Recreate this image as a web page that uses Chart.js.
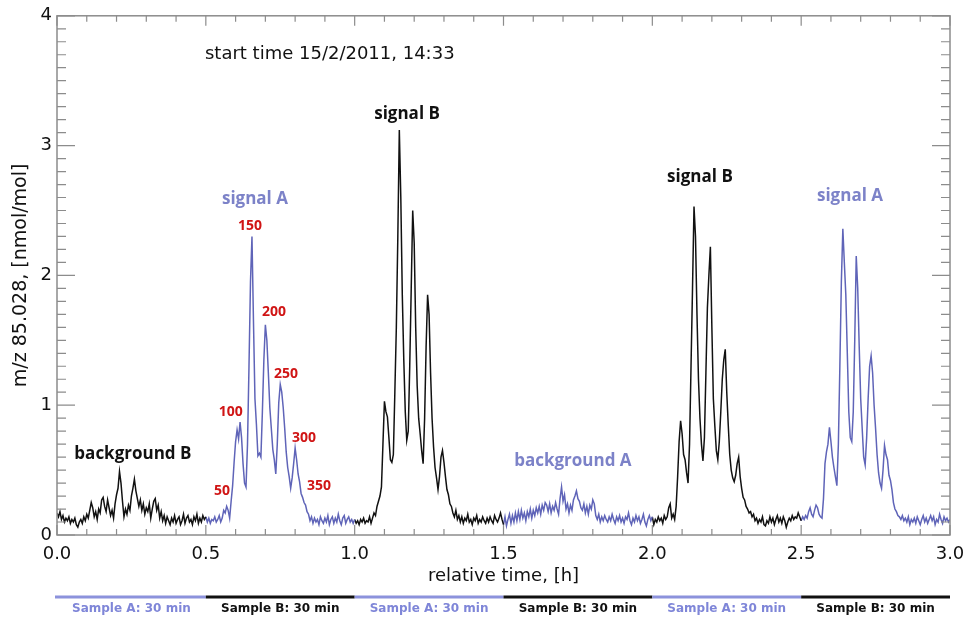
<!DOCTYPE html>
<html>
<head>
<meta charset="utf-8">
<script src="https://cdn.jsdelivr.net/npm/chart.js@4"></script>
<style>
  html, body { margin: 0; padding: 0; background: #fff; }
  #wrap { width: 965px; height: 617px; }
</style>
</head>
<body>
<div id="wrap"><canvas id="myChart" width="965" height="617"></canvas></div>
<script>
// sampling step of the trace, hours
var STEP = 0.005;

// sample B, 0.0 - 0.5 h (background B)
var trace_b1 = [
  0.17,0.14,0.18,0.12,0.15,0.10,0.13,0.11,0.14,0.09,
  0.12,0.10,0.13,0.08,0.06,0.10,0.12,0.09,0.14,0.11,
  0.16,0.13,0.19,0.25,0.21,0.14,0.18,0.12,0.20,0.17,
  0.27,0.29,0.22,0.18,0.27,0.21,0.15,0.19,0.13,0.24,
  0.31,0.36,0.49,0.40,0.26,0.14,0.20,0.16,0.23,0.19,
  0.30,0.36,0.43,0.34,0.28,0.22,0.27,0.19,0.24,0.16,
  0.21,0.18,0.24,0.13,0.20,0.26,0.28,0.19,0.23,0.13,
  0.18,0.11,0.15,0.09,0.14,0.11,0.08,0.13,0.10,0.15,
  0.09,0.12,0.14,0.08,0.11,0.16,0.09,0.13,0.15,0.10,
  0.12,0.08,0.14,0.11,0.16,0.09,0.13,0.10,0.15,0.12,
  0.14
];
// sample A, 0.5 - 1.0 h (signal A)
var trace_a1 = [
  0.14,0.10,0.13,0.09,0.12,0.11,0.14,0.10,0.12,0.15,
  0.10,0.13,0.19,0.17,0.22,0.19,0.13,0.26,0.38,0.56,
  0.72,0.81,0.74,0.87,0.75,0.55,0.40,0.37,0.70,1.30,
  1.95,2.30,1.65,1.05,0.85,0.61,0.63,0.60,0.95,1.35,
  1.62,1.50,1.25,0.98,0.82,0.66,0.58,0.47,0.70,1.02,
  1.16,1.10,0.98,0.82,0.64,0.52,0.45,0.36,0.44,0.55,
  0.67,0.58,0.47,0.41,0.32,0.29,0.25,0.23,0.18,0.16,
  0.11,0.14,0.09,0.13,0.10,0.12,0.08,0.14,0.11,0.09,
  0.13,0.10,0.15,0.08,0.12,0.14,0.09,0.13,0.10,0.16,
  0.11,0.08,0.13,0.15,0.09,0.12,0.14,0.10,0.12,0.09,
  0.12
];
// sample B, 1.0 - 1.5 h (signal B)
var trace_b2 = [
  0.12,0.09,0.11,0.08,0.12,0.10,0.13,0.09,0.11,0.10,
  0.14,0.09,0.13,0.17,0.15,0.22,0.26,0.30,0.37,0.70,
  1.03,0.95,0.91,0.75,0.58,0.56,0.62,1.10,1.60,2.30,
  3.12,2.60,1.85,1.35,0.95,0.73,0.80,1.30,1.90,2.50,
  2.25,1.60,1.15,0.90,0.78,0.65,0.55,0.90,1.45,1.85,
  1.70,1.25,0.90,0.68,0.52,0.44,0.35,0.45,0.60,0.65,
  0.56,0.45,0.35,0.31,0.24,0.22,0.17,0.14,0.19,0.12,
  0.15,0.10,0.14,0.09,0.13,0.11,0.16,0.10,0.12,0.08,
  0.13,0.11,0.15,0.09,0.12,0.10,0.14,0.11,0.09,0.13,
  0.10,0.14,0.11,0.09,0.15,0.12,0.10,0.13,0.17,0.12,
  0.08
];
// sample A, 1.5 - 2.0 h (background A)
var trace_a2 = [
  0.08,0.14,0.07,0.12,0.16,0.09,0.15,0.10,0.17,0.11,
  0.18,0.12,0.19,0.13,0.17,0.11,0.18,0.14,0.20,0.13,
  0.19,0.15,0.21,0.17,0.22,0.16,0.23,0.19,0.25,0.23,
  0.18,0.24,0.17,0.22,0.19,0.25,0.20,0.16,0.28,0.37,
  0.26,0.31,0.20,0.24,0.17,0.23,0.19,0.27,0.30,0.34,
  0.28,0.26,0.21,0.19,0.24,0.17,0.22,0.16,0.23,0.20,
  0.27,0.24,0.15,0.12,0.16,0.10,0.14,0.11,0.15,0.12,
  0.10,0.14,0.11,0.16,0.12,0.09,0.14,0.11,0.15,0.10,
  0.13,0.09,0.14,0.12,0.17,0.11,0.08,0.13,0.10,0.15,
  0.11,0.14,0.09,0.12,0.16,0.10,0.07,0.12,0.15,0.11,
  0.14
];
// sample B, 2.0 - 2.5 h (signal B)
var trace_b3 = [
  0.14,0.08,0.12,0.10,0.14,0.11,0.13,0.09,0.15,0.12,
  0.14,0.21,0.24,0.13,0.16,0.12,0.22,0.45,0.72,0.88,
  0.78,0.62,0.58,0.48,0.40,0.70,1.30,1.90,2.53,2.30,
  1.70,1.20,0.90,0.70,0.57,0.75,1.25,1.75,2.00,2.22,
  1.60,1.05,0.84,0.65,0.58,0.72,0.95,1.20,1.35,1.43,
  1.10,0.85,0.62,0.50,0.44,0.41,0.46,0.55,0.60,0.45,
  0.36,0.29,0.27,0.22,0.20,0.17,0.18,0.14,0.16,0.11,
  0.13,0.09,0.12,0.10,0.14,0.08,0.07,0.11,0.09,0.14,
  0.10,0.13,0.08,0.12,0.15,0.10,0.13,0.09,0.14,0.11,
  0.06,0.10,0.13,0.11,0.15,0.12,0.14,0.13,0.17,0.14,
  0.11
];
// sample A, 2.5 - 3.0 h (signal A)
var trace_a3 = [
  0.11,0.14,0.12,0.15,0.13,0.18,0.21,0.16,0.14,0.19,
  0.23,0.21,0.16,0.14,0.13,0.28,0.55,0.64,0.70,0.83,
  0.72,0.60,0.52,0.45,0.38,0.70,1.30,1.95,2.36,2.10,
  1.85,1.40,0.95,0.75,0.72,0.95,1.50,2.15,1.90,1.45,
  1.05,0.82,0.60,0.54,0.75,1.05,1.30,1.38,1.25,1.00,
  0.82,0.62,0.48,0.40,0.36,0.50,0.69,0.62,0.58,0.46,
  0.42,0.35,0.25,0.20,0.18,0.15,0.14,0.12,0.15,0.11,
  0.13,0.10,0.14,0.08,0.12,0.10,0.13,0.09,0.14,0.11,
  0.08,0.12,0.15,0.10,0.13,0.09,0.12,0.15,0.11,0.14,
  0.08,0.12,0.10,0.16,0.12,0.09,0.14,0.11,0.13,0.10,
  0.12
];

var segment_start = [0.0, 0.5, 1.0, 1.5, 2.0, 2.5];
var segment_trace = [trace_b1, trace_a1, trace_b2, trace_a2, trace_b3, trace_a3];
var segment_kind = ['B', 'A', 'B', 'A', 'B', 'A'];

var sample_edges = [0.0, 0.5, 1.0, 1.5, 2.0, 2.5, 3.0];
var sample_labels = ['Sample A: 30 min', 'Sample B: 30 min', 'Sample A: 30 min',
                     'Sample B: 30 min', 'Sample A: 30 min', 'Sample B: 30 min'];
var sample_kind = ['A', 'B', 'A', 'B', 'A', 'B'];

var x_ticks = ['0.0', '0.5', '1.0', '1.5', '2.0', '2.5', '3.0'];
var y_ticks = ['0', '1', '2', '3', '4'];

var COLOR_A = '#5f64b8';
var COLOR_B = '#111111';
var LABEL_A = '#7c82c8';
var RED = '#d01515';

// text notes, placed in data units
var notes = [
  { text: 'start time 15/2/2011, 14:33', t: 0.497, v: 3.70, color: '#111', font: '18px "DejaVu Sans"', align: 'left' },
  { text: 'signal B', t: 1.176, v: 3.24, color: '#111', font: 'bold 17px "Open Sans"' },
  { text: 'signal B', t: 2.160, v: 2.76, color: '#111', font: 'bold 17px "Open Sans"' },
  { text: 'signal A', t: 0.665, v: 2.59, color: LABEL_A, font: 'bold 17px "Open Sans"' },
  { text: 'signal A', t: 2.664, v: 2.61, color: LABEL_A, font: 'bold 17px "Open Sans"' },
  { text: 'background B', t: 0.255, v: 0.62, color: '#111', font: 'bold 17px "Open Sans"' },
  { text: 'background A', t: 1.733, v: 0.57, color: LABEL_A, font: 'bold 17px "Open Sans"' },
  { text: '150', t: 0.648, v: 2.38, color: RED, font: 'bold 14px "Open Sans"' },
  { text: '200', t: 0.729, v: 1.72, color: RED, font: 'bold 14px "Open Sans"' },
  { text: '250', t: 0.769, v: 1.24, color: RED, font: 'bold 14px "Open Sans"' },
  { text: '100', t: 0.584, v: 0.95, color: RED, font: 'bold 14px "Open Sans"' },
  { text: '300', t: 0.830, v: 0.75, color: RED, font: 'bold 14px "Open Sans"' },
  { text: '50', t: 0.554, v: 0.34, color: RED, font: 'bold 14px "Open Sans"' },
  { text: '350', t: 0.880, v: 0.375, color: RED, font: 'bold 14px "Open Sans"' }
];

var datasets = [];
for (var s = 0; s < segment_trace.length; s++) {
  var pts = segment_trace[s].map(function(v, i) {
    return { x: segment_start[s] + i * STEP, y: v };
  });
  datasets.push({
    data: pts,
    borderColor: segment_kind[s] === 'A' ? COLOR_A : COLOR_B,
    borderWidth: 1.5,
    pointRadius: 0,
    tension: 0
  });
}

// box, inward ticks, notes and the sample bar under the axis
var extras = {
  id: 'extras',
  afterDraw: function(chart) {
    var ctx = chart.ctx;
    var a = chart.chartArea;
    var xs = chart.scales.x;
    var ys = chart.scales.y;
    ctx.save();
    ctx.strokeStyle = '#8c8c8c';
    ctx.lineWidth = 1.5;
    ctx.strokeRect(a.left, a.top, a.right - a.left, a.bottom - a.top);
    ctx.lineWidth = 1.2;
    ctx.beginPath();
    for (var i = 0; i <= 30; i++) {
      var px = xs.getPixelForValue(i / 10);
      var len = (i % 5 === 0) ? 10 : 6;
      ctx.moveTo(px, a.bottom); ctx.lineTo(px, a.bottom - len);
      ctx.moveTo(px, a.top); ctx.lineTo(px, a.top + len);
    }
    for (var j = 0; j <= 40; j++) {
      var py = ys.getPixelForValue(j / 10);
      var l2 = (j % 10 === 0) ? 18 : 9;
      ctx.moveTo(a.left, py); ctx.lineTo(a.left + l2, py);
      ctx.moveTo(a.right, py); ctx.lineTo(a.right - l2, py);
    }
    ctx.stroke();

    ctx.textBaseline = 'middle';
    notes.forEach(function(n) {
      ctx.font = n.font;
      ctx.fillStyle = n.color;
      ctx.textAlign = n.align || 'center';
      ctx.fillText(n.text, xs.getPixelForValue(n.t), ys.getPixelForValue(n.v));
    });

    var barY = a.bottom + 62;
    ctx.lineWidth = 3;
    ctx.font = 'bold 12px "DejaVu Sans"';
    ctx.textAlign = 'center';
    for (var k = 0; k < sample_labels.length; k++) {
      var x0 = xs.getPixelForValue(sample_edges[k]);
      var x1 = xs.getPixelForValue(sample_edges[k + 1]);
      var col = sample_kind[k] === 'A' ? '#8c92dc' : '#111';
      ctx.strokeStyle = col;
      ctx.beginPath();
      ctx.moveTo(x0 - (k === 0 ? 2 : 0), barY);
      ctx.lineTo(x1, barY);
      ctx.stroke();
      ctx.fillStyle = sample_kind[k] === 'A' ? '#7f86d8' : '#111';
      ctx.fillText(sample_labels[k], (x0 + x1) / 2, barY + 12);
    }
    ctx.restore();
  }
};

var ctx = document.getElementById('myChart');
var myChart = new Chart(ctx, {
  type: 'line',
  data: { datasets: datasets },
  options: {
    responsive: false,
    animation: false,
    events: [],
    layout: { padding: { top: 12, right: 0, left: 0, bottom: 0 } },
    plugins: { legend: { display: false }, tooltip: { enabled: false } },
    scales: {
      x: {
        type: 'linear',
        min: 0,
        max: 3,
        grid: { display: false, drawTicks: false },
        border: { display: false },
        ticks: {
          stepSize: 0.5,
          autoSkip: false,
          maxRotation: 0,
          padding: 9,
          color: '#111',
          font: { family: 'DejaVu Sans', size: 18 },
          callback: function(v) {
            var idx = Math.round(v / 0.5);
            return x_ticks[idx];
          }
        },
        title: {
          display: true,
          text: 'relative time, [h]',
          color: '#111',
          font: { family: 'DejaVu Sans', size: 18 },
          padding: { top: 0, bottom: 30 }
        },
        afterFit: function(scale) {
          scale.height = 82;
          scale.paddingRight = 15;
        }
      },
      y: {
        min: 0,
        max: 4,
        grid: { display: false, drawTicks: false },
        border: { display: false },
        ticks: {
          stepSize: 1,
          padding: 5,
          color: '#111',
          font: { family: 'DejaVu Sans', size: 18 },
          callback: function(v) { return y_ticks[Math.round(v)]; }
        },
        title: {
          display: true,
          text: 'm/z 85.028, [nmol/mol]',
          color: '#111',
          font: { family: 'DejaVu Sans', size: 19 },
          padding: { top: 10, bottom: 0 }
        },
        afterFit: function(scale) { scale.width = 57; }
      }
    }
  },
  plugins: [extras]
});
</script>
</body>
</html>
